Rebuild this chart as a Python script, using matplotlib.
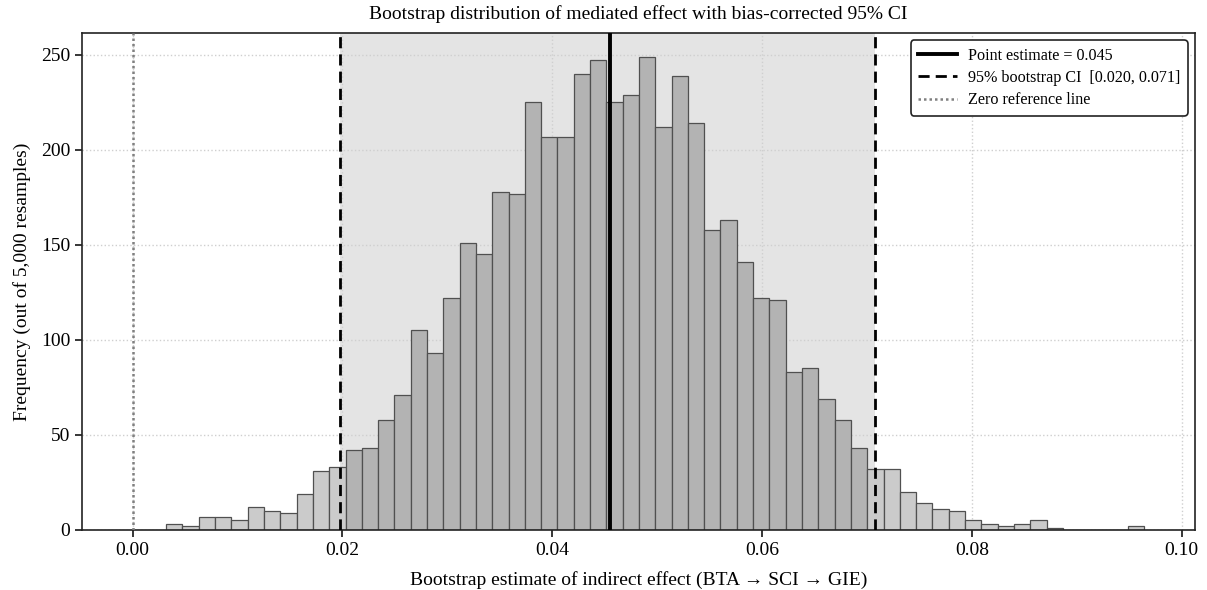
import numpy as np
import matplotlib
matplotlib.use("Agg")
import matplotlib.pyplot as plt

# ---- data ----
bin_lo = 0.003195
bin_hi = 0.09644
n_bins = 60
counts = [3, 2, 7, 7, 5, 12, 10, 9, 19, 31, 33, 42, 43,
          58, 71, 105, 93, 122, 151, 145, 178, 177, 225, 207, 207, 240, 247,
          225, 229, 249, 212, 239, 214, 158, 163, 141, 122, 121, 83, 85, 69, 58, 43, 32,
          32, 20, 14, 11, 10, 5, 3, 2, 3, 5, 1, 0, 0, 0, 0, 2]
point_est = 0.04547
ci_low = 0.01979
ci_high = 0.07072
zero_ref = 0.0
x_ticks = [0.00, 0.02, 0.04, 0.06, 0.08, 0.10]
y_ticks = [0, 50, 100, 150, 200, 250]

plt.rcParams['font.family'] = ['Liberation Serif', 'DejaVu Serif']

fig = plt.figure(figsize=(12.07, 5.90), dpi=100)
ax = fig.add_axes([0.068, 0.102, 0.922, 0.842])

edges = np.linspace(bin_lo, bin_hi, n_bins + 1)
counts = np.array(counts)
inside = (edges[:-1] >= ci_low) & (edges[1:] <= ci_high)
colors = np.where(inside, '#b3b3b3', '#cbcbcb')

ax.axvspan(ci_low, ci_high, color='#e4e4e4', zorder=0, lw=0)
ax.grid(True, which='major', linestyle=':', color='#cfcfcf', linewidth=1.0, zorder=0.5)
ax.set_axisbelow(True)

ax.bar(edges[:-1], counts, width=np.diff(edges), align='edge', color=colors,
       edgecolor='#505050', linewidth=0.9, zorder=2)

ax.axvline(point_est, color='black', linewidth=2.8, linestyle='-', zorder=4,
           label=f'Point estimate = {point_est:.3f}')
ax.axvline(ci_low, color='black', linewidth=2.0, linestyle=(0, (4, 2.2)), zorder=4,
           label=f'95% bootstrap CI  [{ci_low:.3f}, {ci_high:.3f}]')
ax.axvline(ci_high, color='black', linewidth=2.0, linestyle=(0, (4, 2.2)), zorder=4)
ax.axvline(zero_ref, color='#808080', linewidth=1.8, linestyle=(0, (1, 1.2)), zorder=4,
           label='Zero reference line')

# default 5% margins around [zero, bin_hi]
pad = 0.05 * (bin_hi - zero_ref)
ax.set_xlim(zero_ref - pad, bin_hi + pad)

ax.set_xticks(x_ticks)
ax.set_xticklabels([f'{t:.2f}' for t in x_ticks])
ax.set_yticks(y_ticks)
ax.tick_params(axis='both', labelsize=14, length=5, width=1.1, direction='out')
for s in ax.spines.values():
    s.set_linewidth(1.2)
    s.set_color('#222222')

ax.set_xlabel('Bootstrap estimate of indirect effect (BTA \u2192 SCI \u2192 GIE)', fontsize=14, labelpad=9)
ax.set_ylabel('Frequency (out of 5,000 resamples)', fontsize=14, labelpad=7)
ax.set_title('Bootstrap distribution of mediated effect with bias-corrected 95% CI', fontsize=14, pad=10)

leg = ax.legend(loc='upper right', fontsize=11.6, frameon=True, fancybox=True,
                edgecolor='#222222', framealpha=1.0, handlelength=2.4,
                handletextpad=0.7, borderpad=0.45, labelspacing=0.4,
                borderaxespad=0.45)
leg.get_frame().set_linewidth(1.2)

fig.savefig('out.png', dpi=100)
